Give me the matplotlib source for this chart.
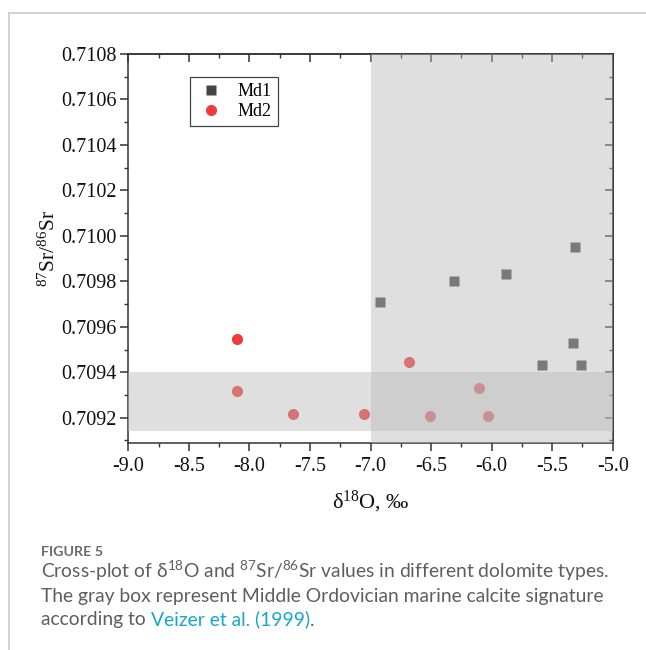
import matplotlib
matplotlib.use("Agg")
import matplotlib.pyplot as plt
from matplotlib.ticker import MultipleLocator, FormatStrFormatter
from matplotlib.lines import Line2D

# ---- data ----
md1_d18o = [-6.92, -6.31, -5.88, -5.31, -5.33, -5.58, -5.26]
md1_sr = [0.70971, 0.70980, 0.70983, 0.70995, 0.70953, 0.70943, 0.70943]
md2_d18o = [-8.10, -8.10, -7.64, -7.05, -6.68, -6.10, -6.51, -6.03]
md2_sr = [0.709547, 0.709317, 0.709217, 0.709217, 0.709447, 0.709329, 0.709207, 0.709207]
# Middle Ordovician marine calcite signature (gray boxes)
box_d18o = [-7.0, -5.0]
box_sr = [0.70914, 0.70940]

plt.rcParams['font.family'] = ['Liberation Serif', 'DejaVu Serif']
plt.rcParams['mathtext.default'] = 'regular'
plt.rcParams['axes.unicode_minus'] = False

W, H = 646, 650
fig = plt.figure(figsize=(W / 100, H / 100), dpi=100)
fig.patch.set_facecolor('white')

L, R, T, B = 128.3, 612.7, 54, 442.7
ax = fig.add_axes([L / W, 1 - B / H, (R - L) / W, (B - T) / H])

xlim = (-9.0, -5.0)
ylim = (0.70909, 0.7108)
ax.set_xlim(*xlim)
ax.set_ylim(*ylim)

ax.plot(md1_d18o, md1_sr, ls='none', marker='s', ms=7.5, color='#444444',
        mec='none', label='Md1', zorder=2)
ax.plot(md2_d18o, md2_sr, ls='none', marker='o', ms=8, color='#ee3a3a',
        mec='none', label='Md2', zorder=2)

band_c = '#bababa'
band_a = 0.45
ax.axvspan(box_d18o[0], box_d18o[1], color=band_c, alpha=band_a, lw=0, zorder=3)
ax.axhspan(box_sr[0], box_sr[1], color=band_c, alpha=band_a, lw=0, zorder=3)

# ticks
ax.xaxis.set_major_locator(MultipleLocator(0.5))
ax.xaxis.set_minor_locator(MultipleLocator(0.25))
ax.yaxis.set_major_locator(MultipleLocator(0.0002))
ax.yaxis.set_minor_locator(MultipleLocator(0.0001))
ax.xaxis.set_major_formatter(FormatStrFormatter('%.1f'))
ax.yaxis.set_major_formatter(FormatStrFormatter('%.4f'))
ax.tick_params(which='major', direction='out', length=5.5, width=1.1,
               color='#333333', labelsize=14.5, labelcolor='#111111')
ax.tick_params(which='minor', direction='out', length=2.8, width=1.0, color='#333333')
ax.tick_params(axis='x', which='major', pad=5)
ax.tick_params(axis='y', which='major', pad=3)

for sp in ax.spines.values():
    sp.set_linewidth(1.1)
    sp.set_color('#333333')

secx = ax.secondary_xaxis('top')
secx.xaxis.set_major_locator(MultipleLocator(0.5))
secx.xaxis.set_minor_locator(MultipleLocator(0.25))
secx.tick_params(which='major', direction='in', length=5.5, width=1.1, color='#333333', labeltop=False)
secx.tick_params(which='minor', direction='in', length=2.8, width=1.0, color='#333333')
secx.spines['top'].set_linewidth(1.1)
secx.spines['top'].set_color('#333333')

secy = ax.secondary_yaxis('right')
secy.yaxis.set_major_locator(MultipleLocator(0.0002))
secy.yaxis.set_minor_locator(MultipleLocator(0.0001))
secy.tick_params(which='major', direction='in', length=5.5, width=1.1, color='#333333', labelright=False)
secy.tick_params(which='minor', direction='in', length=2.8, width=1.0, color='#333333')
secy.spines['right'].set_linewidth(1.1)
secy.spines['right'].set_color('#333333')

ax.set_xlabel('δ$^{18}$O, ‰', fontsize=16, color='#111111', labelpad=9)
ax.set_ylabel('$^{87}$Sr/$^{86}$Sr', fontsize=15.5, color='#111111', labelpad=1)

leg = ax.legend(loc='upper left', bbox_to_anchor=(0.127, 0.941), borderaxespad=0,
                fontsize=13, fancybox=False, edgecolor='#444444', framealpha=1,
                handlelength=1.7, handletextpad=0.6, borderpad=0.35, labelspacing=0.15)
leg.get_frame().set_linewidth(0.9)
leg.set_zorder(6)

# card border
fig.add_artist(Line2D([9 / W, 9 / W], [0, 1 - 13 / H], transform=fig.transFigure,
                      color='#cfcfcf', lw=1.3))
fig.add_artist(Line2D([9 / W, 1], [1 - 13 / H, 1 - 13 / H], transform=fig.transFigure,
                      color='#cfcfcf', lw=1.3))

# caption
cap_font = ['Lato', 'DejaVu Sans']
cx = 41 / W
fig.text(cx, 1 - 552 / H, 'FIGURE 5', fontsize=10.3, fontweight='bold', color='#6a6a6a',
         family=cap_font, va='center', ha='left')
cap_kw = dict(fontsize=13.9, color='#5e5e5e', family=cap_font, ha='left', va='baseline')
fig.text(cx, 1 - 578 / H, 'Cross-plot of δ$^{18}$O and $^{87}$Sr/$^{86}$Sr values in different dolomite types.', **cap_kw)
fig.text(cx, 1 - 602 / H, 'The gray box represent Middle Ordovician marine calcite signature', **cap_kw)
t1 = fig.text(cx, 1 - 625.5 / H, 'according to ', **cap_kw)
t2 = plt.annotate('Veizer et al. (1999)', xy=(1, 0), xycoords=t1, va='bottom', ha='left',
                  fontsize=13.9, color='#16a8c6', family=cap_font, annotation_clip=False)
t3 = plt.annotate('.', xy=(1, 0), xycoords=t2, va='bottom', ha='left',
                  fontsize=13.9, color='#5e5e5e', family=cap_font, annotation_clip=False)

fig.savefig('out.png', dpi=100)
